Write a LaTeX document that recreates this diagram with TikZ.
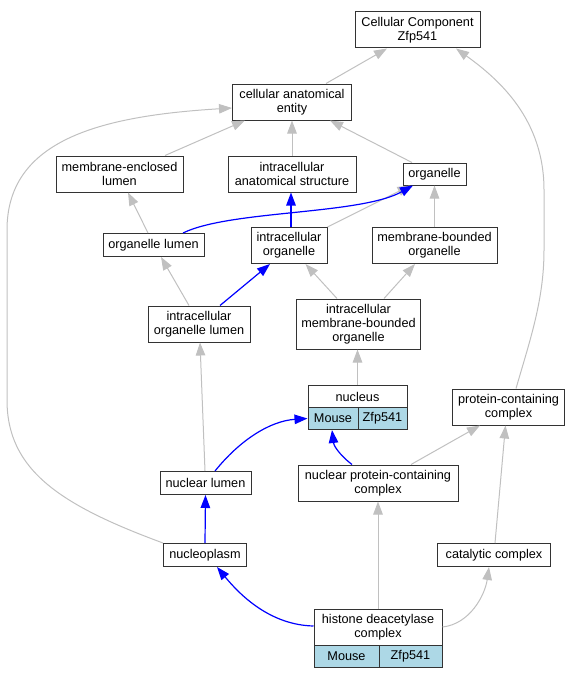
\documentclass[tikz,border=0pt]{standalone}
\usepackage{fontspec}
\setmainfont{Liberation Sans}
\usetikzlibrary{arrows.meta,calc}
\definecolor{edgegray}{HTML}{C0C0C0}
\definecolor{edgeblue}{HTML}{0000FF}
\definecolor{cellblue}{HTML}{ADD8E6}
\tikzset{
  box/.style={draw=black!80, line width=1pt, fill=white, align=center, inner sep=0pt,
    font=\fontsize{12.7}{14}\selectfont},
  cellbox/.style={box, fill=cellblue},
  isa/.style={draw=edgegray, line width=1pt, -{Triangle[length=13pt,width=9.5pt]}},
  partof/.style={draw=edgeblue, line width=1.2pt, -{Triangle[length=13pt,width=9.5pt]}}
}
\begin{document}
\begin{tikzpicture}[x=1pt,y=-1pt]
\useasboundingbox (0,0) rectangle (580,677);
% nodes
\node[box, minimum width=125, minimum height=36] (cc) at (417.5,30) {Cellular Component\\Zfp541};
\node[box, minimum width=119, minimum height=36] (cae) at (292,102) {cellular anatomical\\entity};
\node[box, minimum width=127, minimum height=36] (mel) at (119.5,174) {membrane-enclosed\\lumen};
\node[box, minimum width=128, minimum height=36] (ias) at (292,174) {intracellular\\anatomical structure};
\node[box, minimum width=63, minimum height=22] (org) at (434.5,174) {organelle};
\node[box, minimum width=101, minimum height=23] (ol) at (153.5,245) {organelle lumen};
\node[box, minimum width=76, minimum height=36] (io) at (289,245.5) {intracellular\\organelle};
\node[box, minimum width=125, minimum height=36] (mbo) at (434.5,245.5) {membrane-bounded\\organelle};
\node[box, minimum width=102, minimum height=36] (iol) at (199,324) {intracellular\\organelle lumen};
\node[box, minimum width=124, minimum height=50] (imbo) at (358.5,324) {intracellular\\membrane-bounded\\organelle};
\node[box, minimum width=99, minimum height=23] (nuc) at (357.5,396.5) {nucleus};
\node[cellbox, minimum width=50, minimum height=22] (nucM) at (333,418.5) {Mouse};
\node[cellbox, minimum width=49, minimum height=22] (nucZ) at (382.5,418.5) {Zfp541};
\node[box, minimum width=112, minimum height=36] (pcc) at (508.5,407) {protein-containing\\complex};
\node[box, minimum width=91, minimum height=23] (nl) at (205.5,483) {nuclear lumen};
\node[box, minimum width=160, minimum height=36] (npcc) at (378,483) {nuclear protein-containing\\complex};
\node[box, minimum width=83, minimum height=23] (np) at (205,555) {nucleoplasm};
\node[box, minimum width=113, minimum height=23] (cat) at (494,555) {catalytic complex};
\node[box, minimum width=128, minimum height=36] (hdac) at (378,627) {histone deacetylase\\complex};
\node[cellbox, minimum width=65, minimum height=22] (hdacM) at (346.5,656) {Mouse};
\node[cellbox, minimum width=63, minimum height=22] (hdacZ) at (410.5,656) {Zfp541};
% gray edges
\draw[isa] ($(cae.north)+(34,0)$) -- ($(cc.south)+(-30.5,0)$);
\draw[isa] ($(pcc.north)+(7.5,0)$) .. controls (530,340) and (544,300) .. (544,250)
  -- (544,190) .. controls (544,120) and (500,80) .. ($(cc.south)+(38.5,0)$);
\draw[isa] ($(mel.north)+(45.5,0)$) -- ($(cae.south)+(-47,0)$);
\draw[isa] (ias.north) -- (cae.south);
\draw[isa] ($(org.north)+(-22.5,0)$) -- ($(cae.south)+(38,0)$);
\draw[isa] (np.north west) .. controls (60,505) and (7,470) .. (7,400)
  -- (7,230) .. controls (7,140) and (100,116) .. ($(cae.west)+(0,6)$);
\draw[isa] ($(ol.north)+(-5.5,0)$) -- ($(mel.south)+(8.5,0)$);
\draw[isa] (io.north east) -- ($(org.south)+(-24,0)$);
\draw[isa] (mbo.north) -- (org.south);
\draw[isa] ($(iol.north)+(-10,0)$) -- ($(ol.south)+(7.5,0)$);
\draw[isa] ($(imbo.north)+(-21.5,0)$) -- ($(io.south)+(16.5,0)$);
\draw[isa] ($(imbo.north)+(25.5,0)$) -- ($(mbo.south)+(-19.5,0)$);
\draw[isa] (nuc.north) -- ($(imbo.south)+(-1,0)$);
\draw[isa] ($(nl.north)+(-0.5,0)$) -- ($(iol.south)+(1,0)$);
\draw[isa] ($(npcc.north)+(33,0)$) -- ($(pcc.south)+(-28.5,0)$);
\draw[isa] (hdac.north) -- (npcc.south);
\draw[isa] (hdac.east) .. controls (470,624) and (485,595) .. ($(cat.south)+(-5,0)$);
\draw[isa] ($(cat.north)+(1,0)$) -- ($(pcc.south)+(-3,0)$);
% blue edges
\draw[partof] ($(ol.north)+(29.5,0)$) .. controls (230,210) and (360,215) .. ($(org.south)+(-21.5,0)$);
\draw[partof] ($(io.north)+(2,0)$) -- ($(ias.south)+(-1,0)$);
\draw[partof] ($(iol.north)+(21,0)$) -- ($(io.south)+(-19,0)$);
\draw[partof] ($(nl.north)+(9.5,0)$) .. controls (240,440) and (270,421) .. (nucM.west);
\draw[partof] ($(npcc.north)+(-26,0)$) .. controls (342,457) and (334,447) .. ($(nucM.south)+(-1,0)$);
\draw[partof] (np.north) -- (nl.south);
\draw[partof] ($(hdac.west)+(0,-1)$) .. controls (270,625) and (240,595) .. ($(np.south)+(12,0)$);
\end{tikzpicture}
\end{document}
